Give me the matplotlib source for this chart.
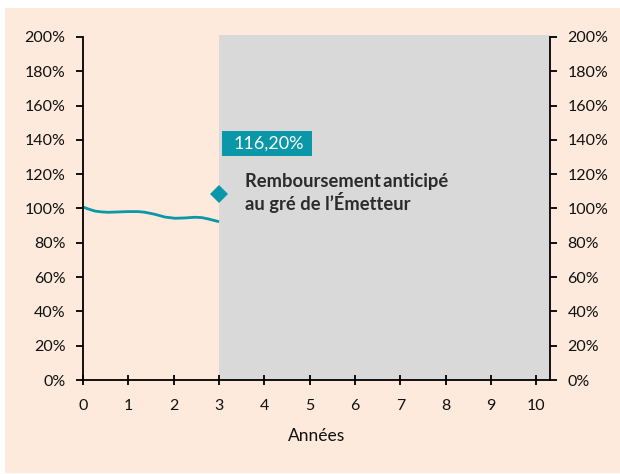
import matplotlib
matplotlib.use("Agg")
import matplotlib.pyplot as plt
from matplotlib.patches import Rectangle

# Data
years = [0.0, 0.118, 0.265, 0.412, 0.559, 0.779, 1.0, 1.221, 1.368, 1.588,
         1.809, 2.03, 2.25, 2.47, 2.618, 2.765, 3.0]
values = [100.9, 99.7, 98.5, 98.0, 97.8, 98.0, 98.2, 98.2, 97.8, 96.6,
          95.0, 94.3, 94.5, 94.9, 94.7, 93.9, 92.3]
call_year = [3.0]
call_value = [108.5]
call_label = "116,20%"
annot_text = "Remboursement\u2009anticipé\nau gré de l\u2019Émetteur"
xticks = list(range(0, 11))
yticks = list(range(0, 201, 20))
xlabel = "Années"

TEAL = "#0a97a8"
PEACH = "#fdeadc"
GREY = "#d9d9d9"

plt.rcParams['font.family'] = ['Lato', 'DejaVu Sans']

W, H = 620, 474
fig = plt.figure(figsize=(6.2, 4.74), dpi=100)
fig.patch.set_facecolor("white")
bg = Rectangle((5/W, 1/H), 615/W, (H-8-1)/H, transform=fig.transFigure,
               facecolor=PEACH, edgecolor="none", zorder=-10)
fig.add_artist(bg)

left, right, bottom, top = 83, 550, 380, 37
ax = fig.add_axes([left/W, 1-bottom/H, (right-left)/W, (bottom-top)/H])
ax.set_zorder(1)
ax.set_facecolor("none")
ax.set_xlim(0, 10.3)
ax.set_ylim(0, 200)

# grey zone after call date
ax.add_patch(Rectangle((3, 0), 10.3-3, 201.3, facecolor=GREY, edgecolor="none",
                       zorder=1, clip_on=False))

ax.plot(years, values, color=TEAL, lw=2.0, zorder=3, solid_capstyle="butt")
ax.plot(call_year, call_value, marker="D", ms=9, color=TEAL, mew=0, ls="none",
        zorder=4, clip_on=False)

# label box
ax.add_patch(Rectangle((3.07, 130.6), 1.98, 14.6, facecolor=TEAL, edgecolor="none", zorder=4))
ax.text(4.09, 137.6, call_label, color="white", fontsize=13, ha="center", va="center", zorder=5)

ax.text(3.57, 99.1, annot_text, color="#2b2b2b", fontsize=13.2, fontweight="bold",
        ha="left", va="baseline", linespacing=1.14, zorder=5)

# spines / axes
ax.spines["top"].set_visible(False)
for s in ["left", "bottom", "right"]:
    ax.spines[s].set_linewidth(1.3)
    ax.spines[s].set_zorder(6)

ax.set_xticks(xticks)
ax.set_yticks(yticks)
ax.set_yticklabels([f"{v}%" for v in yticks])
ax.tick_params(axis="y", direction="out", length=5, width=1.3, labelsize=11.5, pad=7.5,
               labelcolor="#111111", left=True, right=True, labelleft=True, labelright=True)
ax.tick_params(axis="x", direction="inout", length=7, width=1.3, labelsize=11.5, pad=10,
               labelcolor="#111111")
ax.set_xlabel(xlabel, fontsize=12.5, labelpad=11, color="#111111")

fig.savefig("out.png", dpi=100, facecolor=fig.get_facecolor())
